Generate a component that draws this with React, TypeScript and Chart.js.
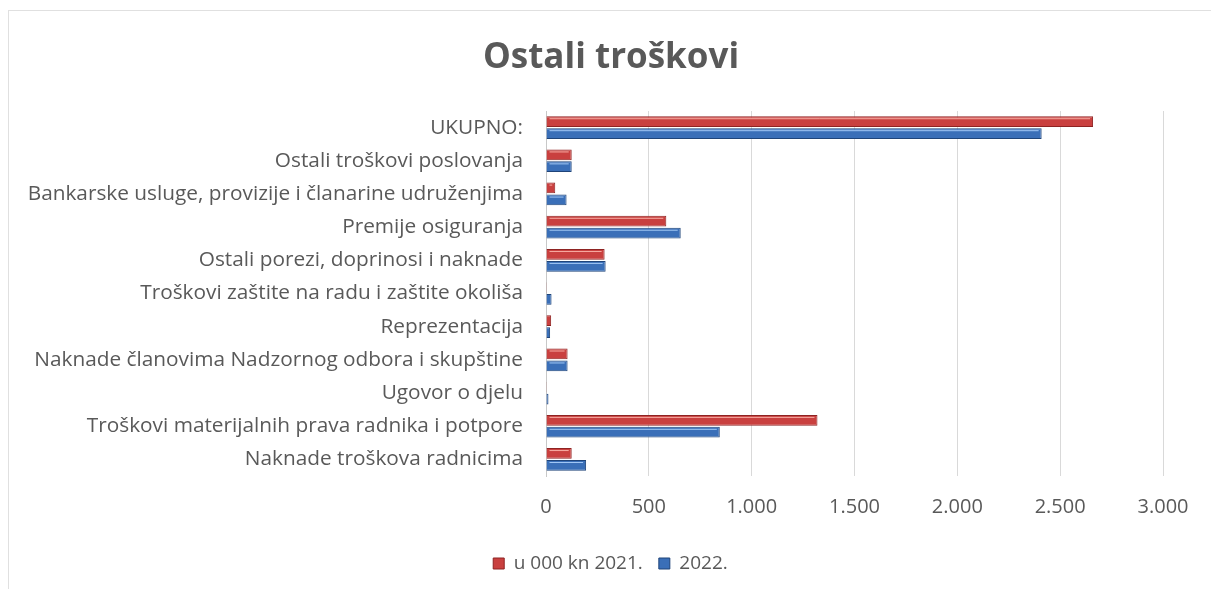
import React, { useEffect, useRef } from "react";
import { Chart, registerables } from "chart.js";

Chart.register(...registerables);

const titleText = "Ostali troškovi";

const categories = [
  "UKUPNO:",
  "Ostali troškovi poslovanja",
  "Bankarske usluge, provizije i članarine udruženjima",
  "Premije osiguranja",
  "Ostali porezi, doprinosi i naknade",
  "Troškovi zaštite na radu i zaštite okoliša",
  "Reprezentacija",
  "Naknade članovima Nadzornog odbora i skupštine",
  "Ugovor o djelu",
  "Troškovi materijalnih prava radnika i potpore",
  "Naknade troškova radnicima",
];

const series2021Label = "u 000 kn 2021.";
const series2022Label = "2022.";

const values2021 = [2660, 125, 45, 585, 285, 4, 25, 105, 1, 1320, 125];
const values2022 = [2410, 125, 100, 655, 290, 27, 20, 105, 12, 845, 195];

const tickValues = [0, 500, 1000, 1500, 2000, 2500, 3000];
const tickLabels = ["0", "500", "1.000", "1.500", "2.000", "2.500", "3.000"];

const FONT = "'Open Sans', Lato, sans-serif";
const TEXT = "#595959";

const bevelPlugin = {
  id: "bevel",
  afterDatasetsDraw(chart: any) {
    const ctx = chart.ctx;
    chart.data.datasets.forEach((ds: any, di: number) => {
      const meta = chart.getDatasetMeta(di);
      const hi = di === 0 ? "rgba(255,190,180,0.85)" : "rgba(180,215,255,0.85)";
      meta.data.forEach((bar: any) => {
        const { x, y, base, height } = bar.getProps(["x", "y", "base", "height"], true);
        const w = x - base;
        if (w < 6) return;
        ctx.save();
        ctx.strokeStyle = hi;
        ctx.lineWidth = 1;
        ctx.beginPath();
        ctx.moveTo(base + 3, y - height / 2 + 2.5);
        ctx.lineTo(x - 3, y - height / 2 + 2.5);
        ctx.stroke();
        ctx.restore();
      });
    });
  },
};

// shift the title/legend boxes so they centre on the outer chart frame
const centerShiftPlugin = {
  id: "centerShift",
  afterLayout(chart: any) {
    if (chart.titleBlock) chart.titleBlock.left = 59;
    if (chart.legend) {
      const lg = chart.legend;
      const dx = 29 - lg.left;
      lg.left += dx;
      lg.right += dx;
      if (lg.legendHitBoxes) lg.legendHitBoxes.forEach((h: any) => (h.left += dx / 2));
    }
  },
};

export default function App() {
  const ref = useRef<HTMLCanvasElement | null>(null);

  useEffect(() => {
    if (!ref.current) return;
    const chart = new Chart(ref.current, {
      type: "bar",
      data: {
        labels: categories,
        datasets: [
          {
            label: series2021Label,
            data: values2021,
            backgroundColor: "#c9403f",
            borderColor: "#8e2322",
            borderWidth: 1,
            categoryPercentage: 0.72,
            barPercentage: 0.9,
          },
          {
            label: series2022Label,
            data: values2022,
            backgroundColor: "#3a6fb8",
            borderColor: "#1f4479",
            borderWidth: 1,
            categoryPercentage: 0.72,
            barPercentage: 0.9,
          },
        ],
      },
      options: {
        indexAxis: "y",
        responsive: false,
        animation: false,
        devicePixelRatio: 1,
        layout: { padding: { left: 0, right: 48, top: 0, bottom: 6 } },
        plugins: {
          title: {
            display: true,
            text: titleText,
            color: TEXT,
            font: { family: FONT, size: 35, weight: "bold" },
            padding: { top: 37, bottom: 32 },
          },
          legend: {
            position: "bottom",
            labels: {
              color: TEXT,
              font: { family: FONT, size: 19 },
              boxWidth: 11,
              boxHeight: 11,
              padding: 16,
              generateLabels: (c: any) =>
                c.data.datasets.map((ds: any, i: number) => ({
                  text: ds.label,
                  fillStyle: ds.backgroundColor,
                  strokeStyle: ds.borderColor,
                  lineWidth: 1,
                  fontColor: TEXT,
                  datasetIndex: i,
                  hidden: false,
                })),
            },
          },
          tooltip: { enabled: false },
        },
        scales: {
          x: {
            min: 0,
            max: 3000,
            afterBuildTicks: (s: any) => {
              s.ticks = tickValues.map((v) => ({ value: v }));
            },
            ticks: {
              color: TEXT,
              font: { family: FONT, size: 20 },
              padding: 19,
              callback: (v: any) => {
                const i = tickValues.indexOf(Number(v));
                return i >= 0 ? tickLabels[i] : "";
              },
            },
            grid: { color: "#d9d9d9", drawTicks: false },
            border: { display: false },
            afterFit: (s: any) => {
              s.height = 62;
            },
          },
          y: {
            ticks: {
              color: TEXT,
              font: { family: FONT, size: 20.8 },
              padding: 23,
              autoSkip: false,
            },
            grid: { display: false, drawTicks: false },
            border: { display: true, color: "#c8c8c8" },
            afterFit: (s: any) => {
              s.width = 546;
            },
          },
        },
      },
      plugins: [bevelPlugin, centerShiftPlugin],
    } as any);
    return () => chart.destroy();
  }, []);

  return (
    <div
      style={{
        position: "absolute",
        left: 0,
        top: 0,
        width: 1211,
        height: 589,
        overflow: "hidden",
        background: "#fff",
      }}
    >
      <div
        style={{
          position: "absolute",
          left: 8,
          top: 10,
          width: 1300,
          height: 700,
          borderTop: "1px solid #e0e0e0",
          borderLeft: "1px solid #e0e0e0",
        }}
      />
      <canvas
        ref={ref}
        width={1211}
        height={589}
        style={{ position: "absolute", left: 0, top: 0 }}
      />
    </div>
  );
}
